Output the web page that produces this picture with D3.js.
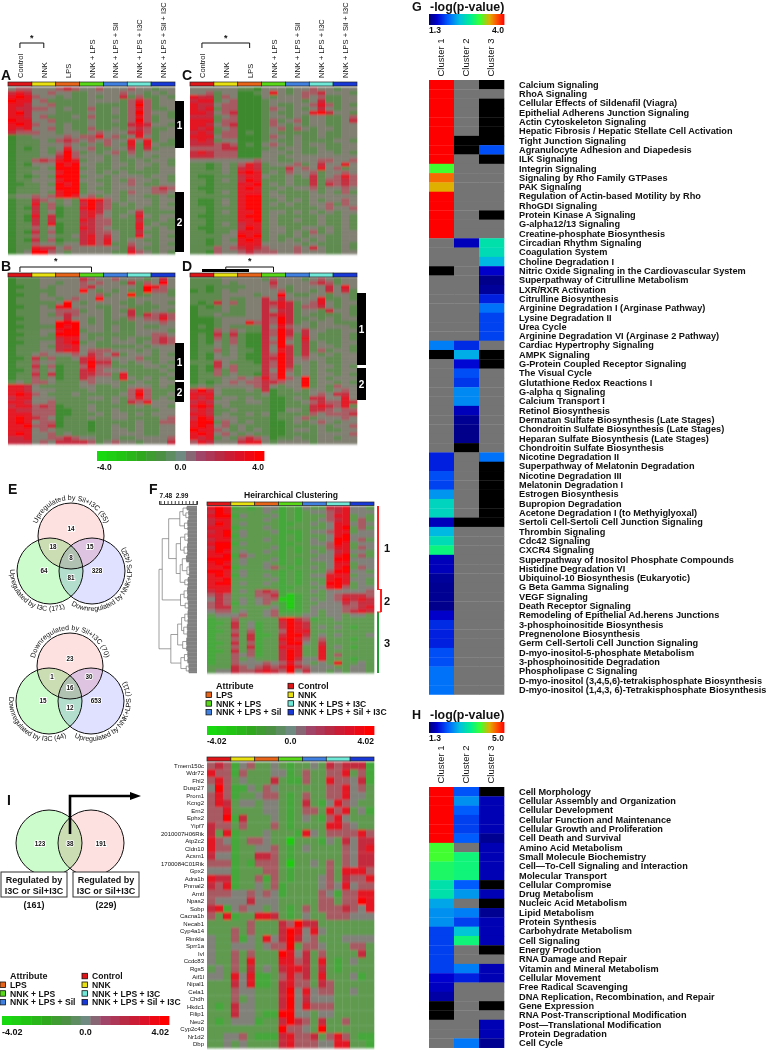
<!DOCTYPE html>
<html>
<head>
<meta charset="utf-8">
<script src="https://cdn.jsdelivr.net/npm/d3@7"></script>
<style>
  body { margin: 0; background: #fff; }
  text { font-family: "Liberation Sans", Arial, sans-serif; fill: #111; }
</style>
</head>
<body>
<div id="chart"></div>
<script>
const groups = ["Control", "NNK", "LPS", "NNK + LPS", "NNK + LPS + Sil", "NNK + LPS + I3C", "NNK + LPS + Sil + I3C"]
const groupColors = ["#e01518", "#e8e010", "#e86418", "#58d818", "#4080e0", "#70e8d8", "#1838d8"]

// heat rows: one digit per sample, 0..8 stands for -4..+4
const panelA = [
"455 444 565 445 444 544 344","676 445 443 344 445 443 434","787 544 343 343 446 353 343","877 453 333 344 443 575 344",
"776 445 333 343 333 585 344","766 554 343 353 343 575 334","786 444 333 343 343 585 443","776 453 334 353 333 575 343",
"877 445 333 343 343 585 344","787 544 343 343 333 676 443","767 445 343 353 343 565 334","655 544 344 345 444 675 344",
"233 444 454 557 453 474 344","233 343 565 454 544 747 343","233 344 454 343 543 737 433","232 343 474 453 344 636 344",
"233 343 585 343 453 534 444","233 344 685 444 343 434 344","233 565 787 344 343 343 443","232 444 878 443 344 344 343",
"233 343 888 343 343 343 344","233 444 788 443 434 333 344","232 343 888 344 344 443 443","233 444 788 443 343 544 343",
"223 343 878 344 344 543 344","233 344 888 343 344 444 565","233 343 788 344 343 544 554","344 545 787 453 443 443 343",
"233 654 343 787 543 444 344","233 735 343 686 534 344 343","232 635 233 786 533 343 344","233 634 233 676 433 463 333",
"232 736 233 675 434 374 344","232 636 333 765 533 363 343","233 637 233 665 533 373 433","233 534 233 765 433 374 343",
"232 635 233 665 543 363 344","233 534 334 675 643 374 343","232 635 233 675 743 443 344","233 544 344 675 733 544 343",
"233 766 454 444 443 643 344","234 885 434 444 433 754 343"]

const panelB = [
"233 344 444 654 454 443 464","233 344 344 545 443 635 484","223 343 444 564 444 438 754","233 333 444 843 434 338 553",
"223 343 444 445 344 833 443","233 344 345 448 444 344 444","233 333 484 344 443 343 443","223 343 784 443 344 333 344",
"233 344 555 344 343 633 443","233 343 565 444 344 636 565","223 344 464 434 343 545 575","233 344 888 434 333 344 454",
"223 333 878 444 343 343 344","233 344 788 344 343 344 443","223 343 888 433 333 344 554","233 333 677 434 343 433 565",
"223 344 678 343 344 434 565","233 343 667 443 333 343 444","233 344 677 455 544 434 344","233 454 445 465 463 444 343",
"223 635 334 675 544 453 344","233 544 333 686 634 344 343","233 635 233 585 533 334 434","223 534 233 675 444 333 343",
"233 636 233 665 537 333 334","233 534 233 654 437 434 343","343 554 333 454 443 343 344","776 433 333 443 343 444 343",
"776 444 333 343 333 575 333","787 543 334 333 334 585 334","677 444 333 344 343 575 343","776 445 333 333 343 657 444",
"677 565 233 343 333 343 443","766 555 223 343 343 333 344","777 555 223 334 344 343 444","787 654 233 343 344 333 345",
"787 455 233 323 333 343 355","778 556 233 323 343 343 344","777 454 333 323 344 343 344","787 445 343 333 344 443 344",
"667 445 565 443 343 344 445","666 454 666 653 454 434 446"]

const panelC = [
"444 444 332 444 344 544 344","445 344 223 474 345 564 443","766 354 222 434 445 453 344","677 345 222 344 443 463 344",
"766 455 222 343 344 575 343","767 355 222 354 343 464 344","776 456 222 343 344 786 443","666 345 222 344 343 443 345",
"777 355 222 353 453 443 346","776 456 222 354 343 443 344","767 345 222 345 354 344 344","676 355 232 343 333 343 344",
"777 455 222 354 343 343 344","676 344 222 343 343 333 443","666 565 232 454 343 443 344","555 566 222 343 443 343 344",
"676 555 222 444 343 344 343","666 555 222 443 444 444 444","444 444 445 443 344 455 445","332 343 576 344 453 464 474",
"332 343 676 333 645 474 534","333 343 787 343 544 534 454","322 333 677 433 434 634 575","332 343 687 333 433 635 565",
"332 333 778 343 433 636 565","322 333 787 334 344 534 454","332 343 777 343 333 434 353","333 333 788 344 333 444 444",
"322 343 788 334 343 434 454","322 343 788 343 433 445 354","332 333 788 333 333 345 445","332 343 778 344 343 434 344",
"322 333 788 343 333 343 343","332 333 778 343 343 343 343","332 343 677 343 333 343 343","322 333 687 344 334 434 343",
"332 334 777 344 343 534 344","333 344 878 343 343 443 344","332 343 787 343 434 343 344","332 344 777 444 443 433 343",
"333 545 676 544 454 643 343","332 544 565 554 454 443 344"]

const panelD = [
"333 344 444 354 443 454 344","333 343 444 464 444 565 344","332 333 344 454 344 446 474","232 343 444 445 344 346 463",
"333 344 443 448 433 443 443","333 343 344 646 444 473 343","323 645 344 667 634 574 344","232 343 344 657 635 564 343",
"233 343 344 646 634 436 443","233 433 344 667 634 333 343","222 344 444 658 633 434 344","222 344 475 658 634 344 333",
"232 343 333 647 544 344 443","222 545 433 658 646 443 344","232 636 322 658 636 433 343","232 535 322 648 537 433 343",
"232 435 322 658 436 343 344","233 434 322 648 636 344 343","233 534 332 647 636 353 443","232 434 322 658 636 434 344",
"232 444 322 668 645 443 344","333 643 332 658 644 343 344","232 645 333 658 634 344 343","232 535 333 648 534 343 344",
"233 534 332 658 434 344 343","233 344 545 758 548 343 444","232 345 455 665 448 344 343","343 444 445 643 448 343 544",
"686 433 343 623 343 443 454","777 433 333 423 333 454 664","767 344 343 322 343 664 474","676 443 344 322 334 565 576",
"787 343 333 322 333 676 573","676 334 333 322 443 665 455","776 343 343 423 333 545 556","687 444 333 323 345 344 454",
"788 354 343 322 343 454 344","787 453 433 322 333 343 445","877 543 434 322 344 343 344","787 454 343 322 333 344 445",
"767 343 565 423 343 344 344","576 444 677 434 444 344 444"]

const panelF = [
"787 232 344 232 433 667 443","687 333 343 232 344 567 444","788 243 334 232 333 577 343","677 333 343 232 334 567 353",
"687 343 333 223 343 477 454","777 233 343 233 333 478 353","678 343 334 222 344 577 344","778 243 333 232 333 478 444",
"677 333 343 232 343 488 453","788 243 333 223 344 587 344","688 333 334 232 333 577 354","787 343 343 232 343 467 443",
"778 254 333 233 334 478 353","888 343 334 232 344 488 444","787 343 343 232 333 477 344","778 233 345 323 343 478 354",
"887 343 333 232 333 588 443","787 243 343 232 344 777 344","778 333 334 232 333 787 443","788 343 343 232 343 887 343",
"777 333 333 223 334 785 344","677 343 565 233 343 444 445","565 333 556 212 333 456 665","465 343 455 112 343 457 676",
"565 243 453 212 334 446 566","566 333 334 212 344 445 567","455 343 345 222 343 445 676","344 453 345 333 443 443 443",
"233 533 333 786 523 343 333","223 634 233 687 633 333 333","233 634 233 687 634 343 233","223 535 233 587 733 333 333",
"233 636 223 688 634 343 334","233 536 233 787 535 333 233","223 635 233 688 436 333 333","233 536 233 777 337 343 233",
"223 635 233 687 337 333 333","233 545 233 687 337 353 333","233 534 333 686 447 333 233","233 544 454 575 434 373 343",
"333 654 565 686 544 433 443","344 655 676 584 644 343 443"]

const genes = ["Tmem150c","Wdr72","Fhl2","Dusp27","Prom1","Kcng2","Ern2","Ephx2","Yipf7","2010007H06Rik","Atp2c2","Cldn10","Acsm1","1700084C01Rik","Gpx2","Adra1b","Pnmal2","Arntl","Npas2","Sobp","Cacna1b","Necab1","Cyp4a14","Rimkla","Sprr1a","Ivl","Ccdc83","Rgs5","Aif1l","Nipal1","Cela1","Chdh","Hkdc1","Filip1","Neu2","Cyp2c40","Nr1d2","Dbp"]
const panelI = [
"565 245 334 323 343 656 662","755 253 334 423 533 557 352","575 343 336 322 533 755 462","485 224 354 333 333 557 453",
"575 233 455 323 533 557 443","576 344 344 323 632 475 433","557 333 344 323 553 757 342","558 263 334 323 432 574 333",
"655 353 335 323 333 775 433","637 233 343 332 743 555 575","754 235 543 313 332 436 466","755 233 445 323 433 335 467",
"644 233 665 323 333 335 466","555 232 555 313 343 535 466","444 233 355 323 333 537 775","766 233 525 323 334 536 557",
"657 233 435 233 334 547 455","555 445 454 233 335 425 577","544 446 444 333 335 535 587","672 454 434 323 535 556 547",
"537 233 776 323 433 555 444","333 335 333 658 663 333 333","333 535 333 687 474 333 333","433 524 374 686 453 334 444",
"433 444 345 583 554 333 553","433 535 333 874 635 333 363","433 537 333 775 637 323 433","343 536 343 677 636 323 333",
"443 747 223 575 637 333 423","333 647 223 675 536 533 333","333 544 333 684 745 533 433","333 534 333 684 644 433 333",
"323 644 333 684 755 533 333","333 644 322 884 434 433 333","323 444 233 686 536 335 333","333 333 333 855 438 333 333",
"334 453 222 675 563 575 322","334 343 333 675 554 477 332"]

const pathwaysG = ["Calcium Signaling","RhoA Signaling","Cellular Effects of Sildenafil (Viagra)","Epithelial Adherens Junction Signaling","Actin Cytoskeleton Signaling","Hepatic Fibrosis / Hepatic Stellate Cell Activation","Tight Junction Signaling","Agranulocyte Adhesion and Diapedesis","ILK Signaling","Integrin Signaling","Signaling by Rho Family GTPases","PAK Signaling","Regulation of Actin-based Motility by Rho","RhoGDI Signaling","Protein Kinase A Signaling","G-alpha12/13 Signaling","Creatine-phosphate Biosynthesis","Circadian Rhythm Signaling","Coagulation System","Choline Degradation I","Nitric Oxide Signaling in the Cardiovascular System","Superpathway of Citrulline Metabolism","LXR/RXR Activation","Citrulline Biosynthesis","Arginine Degradation I (Arginase Pathway)","Lysine Degradation II","Urea Cycle","Arginine Degradation VI (Arginase 2 Pathway)","Cardiac Hypertrophy Signaling","AMPK Signaling","G-Protein Coupled Receptor Signaling","The Visual Cycle","Glutathione Redox Reactions I","G-alpha q Signaling","Calcium Transport I","Retinol Biosynthesis","Dermatan Sulfate Biosynthesis (Late Stages)","Chondroitin Sulfate Biosynthesis (Late Stages)","Heparan Sulfate Biosynthesis (Late Stages)","Chondroitin Sulfate Biosynthesis","Nicotine Degradation II","Superpathway of Melatonin Degradation","Nicotine Degradation III","Melatonin Degradation I","Estrogen Biosynthesis","Bupropion Degradation","Acetone Degradation I (to Methyiglyoxal)","Sertoli Cell-Sertoli Cell Junction Signaling","Thrombin Signaling","Cdc42 Signaling","CXCR4 Signaling","Superpathway of Inositol Phosphate Compounds","Histidine Degradation VI","Ubiquinol-10 Biosynthesis (Eukaryotic)","G Beta Gamma Signaling","VEGF Signaling","Death Receptor Signaling","Remodeling of Epithelial Ad.herens Junctions","3-phosphoinositide Biosynthesis","Pregnenolone Biosynthesis","Germ Cell-Sertoli Cell Junction Signaling","D-myo-inositol-5-phosphate Metabolism","3-phosphoinositide Degradation","Phospholipase C Signaling","D-myo-inositol (3,4,5,6)-tetrakisphosphate Biosynthesis","D-myo-inositol (1,4,3, 6)-Tetrakisphosphate Biosynthesis"]
// null = not significant (gray), 0 = black cell
const g1 = [4,4,4,4,4,4,4,4,4,3.14,3.65,3.46,4,4,4,4,4,null,null,null,0,null,null,null,null,null,null,null,2.1,0,null,null,null,null,null,null,null,null,null,null,1.7,1.7,1.9,1.85,2.2,2.55,2.55,1.5,2.35,2.6,2.85,1.5,1.5,1.4,1.38,1.38,1.36,1.55,1.75,1.7,1.7,1.9,1.9,2.05,2.05,2.05]
const g2 = [null,null,null,null,null,null,0,0,null,null,null,null,null,null,null,null,null,1.5,null,null,null,null,null,null,null,null,null,null,1.75,2.3,1.6,1.9,1.8,2.15,2.15,1.5,1.38,1.35,1.35,0,null,null,null,null,null,null,null,0,null,null,null,null,null,null,null,null,null,null,null,null,null,null,null,null,null,null]
const g3 = [0,null,0,0,0,0,0,1.9,0,null,null,null,null,null,0,null,null,2.65,2.6,2.35,1.55,1.35,1.4,1.7,2.05,1.85,1.85,1.85,null,0,0,null,null,null,null,null,null,null,null,null,2.05,0,0,0,0,0,0,0,null,null,null,null,null,null,null,null,null,null,null,null,null,null,null,null,null,null]

const pathwaysH = ["Cell Morphology","Cellular Assembly and Organization","Cellular Development","Cellular Function and Maintenance","Cellular Growth and Proliferation","Cell Death and Survival","Amino Acid Metabolism","Small Molecule Biochemistry","Cell\u2014To-Cell Signaling and Interaction","Molecular Transport","Cellular Compromise","Drug Metabolism","Nucleic Acid Metabolism","Lipid Metabolism","Protein Synthesis","Carbohydrate Metabolism","Cell Signaling","Energy Production","RNA Damage and Repair","Vitamin and Mineral Metabolism","Cellular Movement","Free Radical Scavenging","DNA Replication, Recombination, and Repair","Gene Expression","RNA Post-Transcriptional Modification","Post\u2014Translational Modification","Protein Degradation","Cell Cycle"]
const h1 = [5,5,5,5,5,5,3.82,3.82,3.55,3.55,3.15,3.15,2.63,2.5,2.5,2.04,2.04,2.04,2.04,2.04,1.67,1.6,1.48,0,0,null,null,null]
const h2 = [2.15,2.5,2.2,2.04,2.04,2.2,null,3.45,3.45,3.45,2.2,2.55,null,2.4,2.04,2.85,3.45,null,null,2.4,1.85,null,null,null,null,null,null,2.35]
const h3 = [0,1.55,1.55,1.55,1.55,1.4,1.55,1.55,1.55,1.55,0,1.55,0,1.4,1.55,1.55,1.55,0,null,1.55,1.55,null,null,0,null,1.55,1.55,1.4]

const vennE1 = {counts: [14, 18, 15, 8, 64, 81, 328], labels: ["Upregulated by Sil+I3C (55)", "Upregulated by I3C (171)", "Downregulated by NNK+LPS (432)"]}
const vennE2 = {counts: [23, 1, 30, 16, 15, 12, 653], labels: ["Downregulated by Sil+I3C (70)", "Downregulated by I3C (44)", "Upregulated by NNK+LPS (711)"]}
const vennI = [123, 38, 191]

// [distance, upper, lower]; a plain number is a bundle of that many leaves
const dendro = [9.4,
  [8.5,
    [6.7,
      [3.6, [2.7, 3, [1.9, 4, 3]], [2.3, 5, 3]],
      [4.6, [3.4, [2.2, 5, 4], [2.4, 6, 3]], [3.5, [2.9, 5, [1.6, 7, 4]], [2.2, 4, 3]]]],
    [3.4, [2.4, 6, 4], [2.1, 4, 3]]],
  [6.1,
    [4.2, [3.1, [2.2, 6, 4], [2.5, 5, 5]], [2.8, 6, 4]],
    [3.3, [2.3, 5, 4], [1.8, 4, 3]]]]

const svg = d3.select("#chart").append("svg").attr("width", 768).attr("height", 1050)

// the source figure is a soft scan, heat cells bleed a little into each other
svg.append("defs").append("filter").attr("id", "soft")
  .append("feGaussianBlur").attr("stdDeviation", "0.7 0.8")

const zScale = d3.scaleLinear().domain([-4, -3, -2, -1, 0, 1, 2, 3, 4])
const darkColor = zScale.copy().range(["#14c008", "#2aa41c", "#3c8a2e", "#5f8a50", "#807f72", "#a85a62", "#c42c3c", "#e41424", "#ff0000"])
const brightColor = zScale.copy().range(["#14d808", "#1ccc10", "#45a83a", "#5f9a50", "#81817a", "#a85a62", "#c42c3c", "#e41424", "#ff0000"])
const barColor = zScale.copy().range(["#18d810", "#22c414", "#2fa81e", "#4c9044", "#6f8a80", "#a04468", "#b82a44", "#dc1026", "#ff0000"])

const rainbowStops = [0, .1, .25, .4, .55, .68, .8, .9, 1]
const rainbowColors = ["#00007a", "#0000d0", "#0060ff", "#00c0e0", "#00f090", "#40ff30", "#e0b000", "#ff5000", "#ff0000"]

const parseRow = s => s.replace(/ /g, "").split("").map(d => +d - 4)

function strip(x, y, w, h) {
  const band = d3.scaleBand().domain(groups).range([0, w])
  const g = svg.append("g").attr("transform", `translate(${x},${y})`)
  g.selectAll("rect").data(groups).join("rect")
    .attr("x", d => band(d)).attr("y", 0)
    .attr("width", band.bandwidth()).attr("height", h)
    .attr("fill", (d, i) => groupColors[i])
    .attr("stroke", "#222").attr("stroke-width", 0.7)
  return band
}

function heat(rows, x, y, w, h, color) {
  const data = rows.map(parseRow)
  const xs = d3.scaleBand().domain(d3.range(21)).range([0, w])
  const ys = d3.scaleBand().domain(d3.range(data.length)).range([0, h])
  const g = svg.append("g").attr("transform", `translate(${x},${y})`).attr("filter", "url(#soft)")
  g.selectAll("g").data(data).join("g")
    .attr("transform", (d, i) => `translate(0,${ys(i)})`)
    .selectAll("rect").data(d => d).join("rect")
    .attr("x", (d, i) => xs(i)).attr("width", xs.bandwidth() + 0.3)
    .attr("height", ys.bandwidth() + 0.3)
    .attr("fill", d => color(d))
  return g
}

function letter(t, x, y, size) {
  svg.append("text").attr("x", x).attr("y", y).attr("font-size", size || 14).attr("font-weight", "bold").text(t)
}

function groupLabels(x0, w, bottom) {
  const band = d3.scaleBand().domain(groups).range([x0, x0 + w])
  svg.append("g").selectAll("text").data(groups).join("text")
    .attr("transform", d => `translate(${band(d) + band.bandwidth() / 2 + 3},${bottom}) rotate(-90)`)
    .attr("font-size", 7.5).text(d => d)
}

function bracket(x0, w, from, to, top, bottom) {
  const band = d3.scaleBand().domain(d3.range(7)).range([x0, x0 + w])
  const a = band(from) + band.bandwidth() / 2, b = band(to) + band.bandwidth() / 2
  svg.append("path").attr("fill", "none").attr("stroke", "#111").attr("stroke-width", 1)
    .attr("d", `M${a},${bottom}V${top}H${b}V${bottom}`)
  return (a + b) / 2
}

function star(x, y) {
  svg.append("text").attr("x", x).attr("y", y).attr("text-anchor", "middle").attr("font-size", 9).attr("font-weight", "bold").text("*")
}

function sideBar(x, y0, y1, label) {
  svg.append("rect").attr("x", x).attr("y", y0).attr("width", 9).attr("height", y1 - y0).attr("fill", "#000")
  svg.append("text").attr("x", x + 4.5).attr("y", (y0 + y1) / 2 + 4).attr("text-anchor", "middle")
    .attr("font-size", 10).attr("font-weight", "bold").style("fill", "#fff").text(label)
}

function colorBar(x, y, w, h, labels, size) {
  const steps = d3.range(-4, 4.001, 0.5)
  const sx = d3.scaleBand().domain(steps).range([x, x + w])
  svg.append("g").selectAll("rect").data(steps).join("rect")
    .attr("x", d => sx(d)).attr("y", y).attr("width", sx.bandwidth() + 0.4).attr("height", h)
    .attr("fill", d => barColor(d))
  const ty = y + h + size + 0.5
  svg.append("text").attr("x", x).attr("y", ty).attr("font-size", size).attr("font-weight", "bold").text(labels[0])
  svg.append("text").attr("x", x + w / 2).attr("y", ty).attr("font-size", size).attr("text-anchor", "middle").attr("font-weight", "bold").text(labels[1])
  svg.append("text").attr("x", x + w).attr("y", ty).attr("font-size", size).attr("text-anchor", "end").attr("font-weight", "bold").text(labels[2])
}

// panels A-D
const panels = [[panelA, 8, 87, 82], [panelC, 190, 87, 82], [panelB, 8, 277, 273], [panelD, 190, 277, 273]]
panels.forEach(p => {
  heat(p[0], p[1], p[2], 167, 167, darkColor)
  strip(p[1], p[3], 167, 4)
})
groupLabels(8, 167, 78)
groupLabels(190, 167, 78)

star(bracket(8, 167, 0, 1, 43, 48), 41)
star(bracket(190, 167, 0, 2, 43, 48), 41)
star(bracket(8, 167, 0, 3, 267, 272), 264)
star(bracket(190, 167, 1, 3, 267, 272), 264)
svg.append("path").attr("fill", "none").attr("stroke", "#000").attr("stroke-width", 3).attr("d", "M202,270.5H249")

sideBar(175, 101, 148, "1")
sideBar(175, 192, 252, "2")
sideBar(175, 343, 380, "1")
sideBar(175, 382, 402, "2")
sideBar(357, 293, 365, "1")
sideBar(357, 368, 400, "2")

letter("A", 1, 80, 14)
letter("C", 182, 80, 14)
letter("B", 1, 271, 14)
letter("D", 182, 271, 14)
colorBar(97, 451, 167, 10, ["-4.0", "0.0", "4.0"], 8.5)

// venn diagrams
function halo(sel) {
  return sel.attr("stroke", "#fff").attr("stroke-width", 1.8).attr("paint-order", "stroke")
    .attr("text-anchor", "middle").attr("font-weight", "bold").attr("font-size", 6.3)
}

function venn(cx, cy, info, id) {
  const r = 33
  const circles = [
    {x: cx, y: cy, c: "#fde0e0"},
    {x: cx - 21, y: cy + 35, c: "#ccfccc"},
    {x: cx + 21, y: cy + 35, c: "#e0e0ff"}]
  const g = svg.append("g").style("isolation", "isolate")
  g.selectAll("circle").data(circles).join("circle")
    .attr("cx", d => d.x).attr("cy", d => d.y).attr("r", r).attr("fill", d => d.c)
    .style("mix-blend-mode", "multiply")
  svg.append("g").selectAll("circle").data(circles).join("circle")
    .attr("cx", d => d.x).attr("cy", d => d.y).attr("r", r).attr("fill", "none").attr("stroke", "#111").attr("stroke-width", 1)

  const spots = [[0, -7], [-18, 11], [19, 11], [0, 22], [-27, 35], [0, 42], [26, 35]]
  svg.append("g").selectAll("text").data(info.counts).join("text")
    .attr("x", (d, i) => cx + spots[i][0]).attr("y", (d, i) => cy + spots[i][1] + 2.2)
    .call(halo).text(d => d)

  const rad = Math.PI / 180
  const arcs = [
    [circles[0], 36, -168, -12, false],
    [circles[1], 40, 195, 55, true],
    [circles[2], 40, 130, -45, true]]
  arcs.forEach((a, i) => {
    const p = d3.path()
    p.arc(a[0].x, a[0].y, a[1], a[2] * rad, a[3] * rad, a[4])
    svg.append("path").attr("id", id + i).attr("d", p.toString()).attr("fill", "none")
    svg.append("text").attr("font-size", 7.1).attr("text-anchor", "middle")
      .append("textPath").attr("href", "#" + id + i).attr("startOffset", "50%").text(info.labels[i])
  })
}
letter("E", 8, 494, 14)
venn(71, 536, vennE1, "ve1")
venn(70, 666, vennE2, "ve2")

// panel F
const dX = d3.scaleLinear().domain([9.4, -1.2]).range([159, 197])
function leafCount(n) { return typeof n === "number" ? n : leafCount(n[1]) + leafCount(n[2]) }
const dY = d3.scaleLinear().domain([0, leafCount(dendro)]).range([506, 673])
const branches = [], leaves = []
let slot = 0
function walk(node, parentDist) {
  if (typeof node === "number") {
    const start = slot
    const d = Math.min(parentDist * 0.6, 2.8)
    d3.range(node).forEach(() => { leaves.push({d: d, i: slot}); slot += 1 })
    const mid = dY(start + node / 2)
    branches.push(`M${dX(parentDist)},${mid}H${dX(d)}M${dX(d)},${dY(start + 0.5)}V${dY(slot - 0.5)}`)
    return mid
  }
  const a = walk(node[1], node[0])
  const b = walk(node[2], node[0])
  branches.push(`M${dX(node[0])},${a}V${b}`)
  const mid = (a + b) / 2
  if (parentDist !== null) branches.push(`M${dX(parentDist)},${mid}H${dX(node[0])}`)
  return mid
}
walk(dendro, null)
svg.append("g").selectAll("line").data(leaves).join("line")
  .attr("x1", d => dX(d.d)).attr("x2", dX(-1.2))
  .attr("y1", d => dY(d.i + 0.5)).attr("y2", d => dY(d.i + 0.5))
  .attr("stroke", "#808080").attr("stroke-width", 1.8)
svg.append("path").attr("d", branches.join("")).attr("fill", "none").attr("stroke", "#777").attr("stroke-width", 0.7)
svg.append("g").attr("transform", "translate(0,504)")
  .call(d3.axisTop(dX).tickValues(d3.range(-1, 9.5, 1)).tickSize(3).tickFormat(""))
  .call(g => g.selectAll("line,path").attr("stroke", "#111").attr("stroke-width", 0.8))
svg.append("g").selectAll("text").data([7.48, 2.99]).join("text")
  .attr("x", d => dX(d)).attr("y", 498).attr("text-anchor", "middle")
  .attr("font-size", 6.5).attr("font-weight", "bold").text(d => d)

letter("F", 149, 494, 14)
svg.append("text").attr("x", 291).attr("y", 498).attr("text-anchor", "middle").attr("font-size", 8.6).attr("font-weight", "bold").text("Heirarchical Clustering")
heat(panelF, 207, 506, 167, 167, brightColor)
strip(207, 502, 167, 3.5)

const clusterBars = [
  {x: 377, y0: 506, y1: 589, c: "#ff2020", t: "1"},
  {x: 380, y0: 589, y1: 612, c: "#ff2020", t: "2"},
  {x: 377, y0: 612, y1: 673, c: "#20a030", t: "3"}]
svg.append("g").selectAll("rect").data(clusterBars).join("rect")
  .attr("x", d => d.x).attr("y", d => d.y0).attr("width", 2).attr("height", d => d.y1 - d.y0).attr("fill", d => d.c)
svg.append("path").attr("d", "M377,589.5H381M377,612H381").attr("stroke", "#ff2020").attr("stroke-width", 1).attr("fill", "none")
svg.append("g").selectAll("text").data(clusterBars).join("text")
  .attr("x", 384).attr("y", d => (d.y0 + d.y1) / 2 + 4.5).attr("font-size", 11).attr("font-weight", "bold").text(d => d.t)

function attrLegend(x, y) {
  const left = [2, 3, 4], right = [0, 1, 5, 6]
  svg.append("text").attr("x", x + 10).attr("y", y + 3).attr("font-size", 9).attr("font-weight", "bold").text("Attribute")
  left.forEach((g, i) => {
    svg.append("rect").attr("x", x).attr("y", y + 6 + i * 8.7).attr("width", 5.5).attr("height", 5.5)
      .attr("fill", groupColors[g]).attr("stroke", "#111").attr("stroke-width", 0.8)
    svg.append("text").attr("x", x + 10).attr("y", y + 12 + i * 8.7).attr("font-size", 8.6).attr("font-weight", "bold").text(groups[g])
  })
  right.forEach((g, i) => {
    svg.append("rect").attr("x", x + 82).attr("y", y - 2.7 + i * 8.7).attr("width", 5.5).attr("height", 5.5)
      .attr("fill", groupColors[g]).attr("stroke", "#111").attr("stroke-width", 0.8)
    svg.append("text").attr("x", x + 92).attr("y", y + 3.3 + i * 8.7).attr("font-size", 8.6).attr("font-weight", "bold").text(groups[g])
  })
}
attrLegend(206, 686)
colorBar(207, 726, 167, 9, ["-4.02", "0.0", "4.02"], 8.5)

// panel I, heat with genes
heat(panelI, 207, 762, 167, 286, brightColor)
strip(207, 757, 167, 4)
const geneY = d3.scaleBand().domain(genes).range([762, 1048])
svg.append("g").selectAll("text").data(genes).join("text")
  .attr("x", 204).attr("y", d => geneY(d) + geneY.bandwidth() / 2 + 2)
  .attr("text-anchor", "end").attr("font-size", 6).text(d => d)

// panel I, venn
letter("I", 7, 805, 14)
const vennCircles = [{x: 49, c: "#ccfccc"}, {x: 91, c: "#fde0e0"}]
const vg = svg.append("g").style("isolation", "isolate")
vg.selectAll("circle").data(vennCircles).join("circle")
  .attr("cx", d => d.x).attr("cy", 843).attr("r", 33).attr("fill", d => d.c).style("mix-blend-mode", "multiply")
svg.append("g").selectAll("circle").data(vennCircles).join("circle")
  .attr("cx", d => d.x).attr("cy", 843).attr("r", 33).attr("fill", "none").attr("stroke", "#111")
svg.append("g").selectAll("text").data(vennI).join("text")
  .attr("x", (d, i) => [40, 70, 101][i]).attr("y", 845.5).call(halo).text(d => d)
svg.append("path").attr("d", "M70,834V796H132").attr("fill", "none").attr("stroke", "#000").attr("stroke-width", 2.6)
svg.append("path").attr("d", "M130,792L141,796L130,800Z").attr("fill", "#000")
const regBoxes = [{x: 1, n: "(161)"}, {x: 73, n: "(229)"}]
regBoxes.forEach(b => {
  svg.append("rect").attr("x", b.x).attr("y", 872).attr("width", 66).attr("height", 25)
    .attr("fill", "#fff").attr("stroke", "#333").attr("stroke-width", 1)
  const t = ["Regulated by", "I3C or Sil+I3C"]
  t.forEach((s, i) => svg.append("text").attr("x", b.x + 33).attr("y", 883 + i * 10.5)
    .attr("text-anchor", "middle").attr("font-size", 9).attr("font-weight", "bold").text(s))
  svg.append("text").attr("x", b.x + 33).attr("y", 908).attr("text-anchor", "middle")
    .attr("font-size", 9).attr("font-weight", "bold").text(b.n)
})
attrLegend(0, 976)
colorBar(2, 1016, 167, 9, ["-4.02", "0.0", "4.02"], 9)

// panels G and H
function pathwayPanel(cols, labels, top, barY, maxVal, tag) {
  const color = d3.scaleLinear().domain(rainbowStops.map(t => 1.3 + t * (maxVal - 1.3))).range(rainbowColors)
  const names = ["Cluster 1", "Cluster 2", "Cluster 3"]
  const xs = d3.scaleBand().domain(names).range([429, 504])
  const ys = d3.scaleBand().domain(labels).range([top, top + labels.length * 9.31])
  const g = svg.append("g")
  cols.forEach((col, c) => {
    g.append("g").selectAll("rect").data(col).join("rect")
      .attr("x", xs(names[c])).attr("y", (d, i) => ys(labels[i]))
      .attr("width", xs.bandwidth() + 0.3).attr("height", ys.bandwidth() + 0.3)
      .attr("fill", d => d === null ? "#747474" : d === 0 ? "#000" : color(d))
  })
  svg.append("g").selectAll("text").data(labels).join("text")
    .attr("x", 519).attr("y", d => ys(d) + ys.bandwidth() / 2 + 3.1)
    .attr("font-size", 9.2).attr("font-weight", "bold").text(d => d)
  svg.append("g").selectAll("text").data(names).join("text")
    .attr("transform", d => `translate(${xs(d) + xs.bandwidth() / 2 + 2.5},${top - 3.5}) rotate(-90)`)
    .attr("font-size", 9.5).text(d => d)
  // color bar
  const steps = d3.range(1.3, maxVal, (maxVal - 1.3) / 75)
  const bx = d3.scaleBand().domain(steps).range([429, 504])
  svg.append("g").selectAll("rect").data(steps).join("rect")
    .attr("x", d => bx(d)).attr("y", barY).attr("width", bx.bandwidth() + 0.4).attr("height", 11).attr("fill", d => color(d))
  svg.append("text").attr("x", 429).attr("y", barY + 19).attr("font-size", 8.6).attr("font-weight", "bold").text("1.3")
  svg.append("text").attr("x", 504).attr("y", barY + 19).attr("text-anchor", "end").attr("font-size", 8.6).attr("font-weight", "bold").text(maxVal.toFixed(1))
  svg.append("text").attr("x", 430).attr("y", barY - 3).attr("font-size", 12.4).attr("font-weight", "bold").text("-log(p-value)")
  letter(tag, 412, barY - 3, 12.5)
}
pathwayPanel([g1, g2, g3], pathwaysG, 80, 14, 4.0, "G")
pathwayPanel([h1, h2, h3], pathwaysH, 787, 722, 5.0, "H")
</script>
</body>
</html>
